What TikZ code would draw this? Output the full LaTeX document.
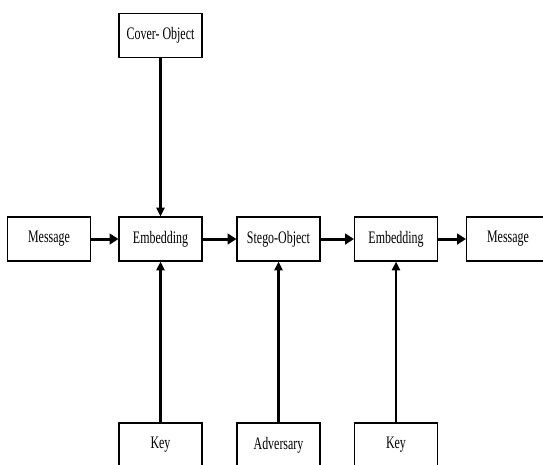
\documentclass[tikz,border=0pt]{standalone}
\usepackage{fontspec}
\newfontfamily\boxfont[FakeStretch=0.68]{Liberation Serif}
\usetikzlibrary{arrows.meta}
\tikzset{
    blk/.style={draw,line width=0.6pt,minimum width=1.66cm,minimum height=0.88cm,inner sep=0pt,font=\boxfont\fontsize{10}{12}\selectfont},
    flow/.style={line width=1.7pt,-{Triangle[length=5pt,width=6pt]}},
    feed/.style={line width=1.3pt,-{Triangle[length=5pt,width=4.5pt]}}
}

\begin{document}
\begin{tikzpicture}[x=0.02cm,y=-0.02cm]
            \useasboundingbox (0,0) rectangle (543,464);
            \clip (0,0) rectangle (543,464);
            \node [blk] (cover) at (160.5,35.5) {Cover- Object};
            \node [blk] (msgin) at (49,239) {Message};
            \node [blk] (embed) at (160.5,239) {Embedding};
            \node [blk] (stego) at (278.5,239) {Stego-Object};
            \node [blk] (extract) at (396,239) {Embedding};
            \node [blk] (msgout) at (508,239) {Message};
            \node [blk] (keyin) at (160.5,445) {Key};
            \node [blk] (adv) at (278.5,445) {Adversary};
            \node [blk] (keyout) at (396,445) {Key};

            \draw [flow] (msgin) -- (embed);
            \draw [flow] (embed) -- (stego);
            \draw [flow] (stego) -- (extract);
            \draw [flow] (extract) -- (msgout);

            \draw [feed] (cover) -- (embed);
            \foreach \src/\dst in {keyin/embed,adv/stego,keyout/extract} {
                \draw [feed] (\src) -- (\dst);
            }
        \end{tikzpicture}
\end{document}
